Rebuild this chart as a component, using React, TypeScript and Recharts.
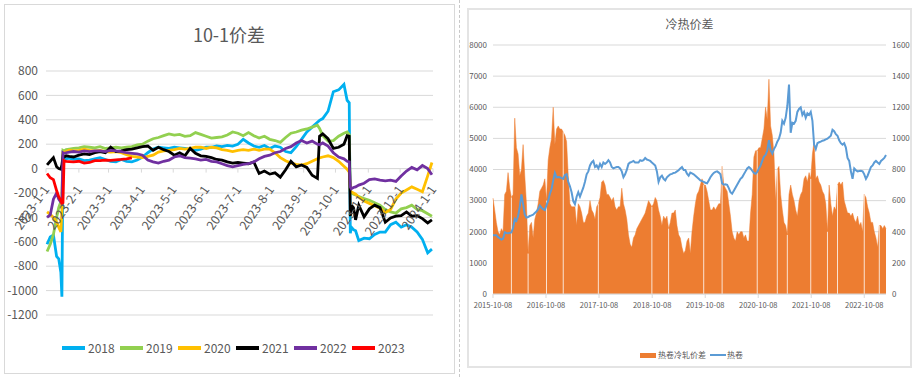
import React from "react";
import {
  LineChart,
  Line,
  ComposedChart,
  Area,
  XAxis,
  YAxis,
  CartesianGrid,
  ReferenceLine,
  ReferenceDot,
} from "recharts";

const FONT = '"Noto Sans CJK SC", "Noto Sans", sans-serif';
const GREY = "#595959";
const GRID = "#d9d9d9";

// ---------- left: 10-1 spread, one line per year ----------
// day of year (0 = Jan 1) of each sample
const DAYS = [
  1, 4, 7, 10, 12, 14, 15, 16, 17, 19, 22, 26,
  31, 36, 41, 46, 51, 56, 61, 66, 71, 76, 81, 86, 91, 96, 101, 106, 111, 116,
  121, 126, 131, 136, 141, 146, 151, 156, 161, 166, 171, 176, 181, 186, 191,
  196, 201, 206, 211, 216, 221, 226, 231, 236, 241, 246, 251, 256,
  258,
  261, 266, 271, 276, 281,
  284, 286, 287, 288, 289, 290, 292, 295,
  300, 305, 310, 315, 320, 325, 330, 335, 340, 345, 350, 355, 360,
  364,
];

const Y2018 = [
  -620, -560, -545, -720, -740, -850, -1050, 100, 90, 80, 85, 75,
  80, 65, 70, 80, 90, 75, 60, 55, 75, 60, 55, 70, 95, 130, 160, 175, 170, 165,
  175, 170, 165, 160, 150, 160, 175, 175, 185, 180, 190, 185, 200, 240, 210,
  185, 175, 190, 165, 185, 175, 140, 130, 180, 240, 300, 340, 380,
  395,
  410, 470, 630, 645, 690,
  560, 540, -530, -480, -490, -500, -510, -590,
  -570, -575, -540, -520, -520, -460, -440, -480, -460, -480, -520, -580, -690,
  -660,
];
const Y2019 = [
  -680, -620, -540, -400, -320, -270, -255, 150, 145, 155, 160, 165,
  170, 180, 175, 170, 180, 165, 170, 175, 170, 175, 180, 195, 200, 225, 245, 255, 270, 285,
  275, 280, 265, 270, 295, 280, 265, 250, 255, 260, 275, 300, 290, 270, 295,
  270, 250, 265, 240, 230, 215, 255, 290, 300, 315, 325, 340, 355,
  330,
  270, 225, 230, 265, 290,
  300, 280, -190, -200, -205, -210, -215, -230,
  -245, -260, -280, -300, -335, -355, -365, -330, -320, -300, -335, -345, -370,
  -390,
];
const Y2020 = [
  -355, -375, -400, -440, -480, -520, -350, 130, 135, 140, 150, 145,
  150, 160, 150, 145, 150, 140, 135, 140, 130, 115, 100, 95, 90, 100, 110, 135, 145, 150,
  155, 165, 160, 165, 175, 175, 165, 175, 170, 155, 150, 140, 150, 155, 150,
  160, 150, 160, 160, 130, 90, 65, 45, 35, 28, 40, 60, 80,
  88,
  95, 105, 90, 60, 20,
  -5, -30, -180, -190, -195, -200, -210, -235,
  -265, -285, -305, -325, -360, -335, -250, -200, -175, -150, -170, -190, -60,
  50,
];
const Y2021 = [
  30, 60, 90, 15, 0, -5, 30, 100, 95, 105, 100, 95,
  110, 120, 115, 130, 140, 130, 175, 140, 145, 155, 160, 170, 180, 185, 150, 175, 155, 140,
  110, 130, 105, 165, 125, 105, 100, 90, 75, 70, 55, 45, 50, 45, 40,
  55, -40, -20, -45, -35, -70, -10, 60, 15, 30, 10, -55, -80,
  265,
  285, 245, 165, 175, 200,
  270, 265, -390, -320, -310, -320, -420, -300,
  -395, -330, -300, -320, -440, -405, -390, -385, -355, -390, -385, -410, -445,
  -420,
];
const Y2022 = [
  -400, -380, -250, -200, -250, -275, -280, 130, 125, 130, 135, 140,
  135, 145, 140, 145, 145, 140, 150, 145, 140, 130, 125, 120, 110, 70, 55, 45, 60, 70,
  95, 105, 90, 85, 80, 70, 75, 60, 55, 40, 25, 15, 25, 35, 40,
  55, 80, 100, 110, 130, 140, 165, 180, 210, 230, 210, 225, 200,
  195,
  210, 185, 130, 95, 80,
  60, 55, -150, -165, -160, -155, -150, -135,
  -120, -90, -85, -95, -100, -95, -105, -60, -20, 10, -10, 25, 0,
  -50,
];
const Y2023 = [
  -40, -75, -90, -180, -230, -260, -285, -280, 65, 60, 58, 55,
  60, 45, 50, 65, 65, 70, 68, 72, 75, 80, 88,
];

const SERIES = [
  { key: "y2018", name: "2018", color: "#00b0f0", values: Y2018 },
  { key: "y2019", name: "2019", color: "#92d050", values: Y2019 },
  { key: "y2020", name: "2020", color: "#ffc000", values: Y2020 },
  { key: "y2021", name: "2021", color: "#000000", values: Y2021 },
  { key: "y2022", name: "2022", color: "#7030a0", values: Y2022 },
  { key: "y2023", name: "2023", color: "#ff0000", values: Y2023 },
];

const MONTH_DAYS = [0, 31, 59, 90, 120, 151, 181, 212, 243, 273, 304, 334, 365];
const MONTH_LABELS = [
  "2023-1-1", "2023-2-1", "2023-3-1", "2023-4-1", "2023-5-1", "2023-6-1",
  "2023-7-1", "2023-8-1", "2023-9-1", "2023-10-1", "2023-11-1", "2023-12-1",
  "2024-1-1",
];
const SPREAD_TICKS = [800, 600, 400, 200, 0, -200, -400, -600, -800, -1000, -1200];

const seasonData = DAYS.map((d, i) => {
  const row: Record<string, number | null> = { d };
  SERIES.forEach((s) => {
    row[s.key] = s.values[i] ?? null;
  });
  return row;
});

// ---------- right: hot-rolled / cold-rolled spread ----------
const YEAR_TICKS = [0, 31.7, 63.4, 95.2, 126.9, 158.6, 190.3, 222];
const YEAR_LABELS = [
  "2015-10-08", "2016-10-08", "2017-10-08", "2018-10-08",
  "2019-10-08", "2020-10-08", "2021-10-08", "2022-10-08",
];
const LEFT_TICKS = [0, 1000, 2000, 3000, 4000, 5000, 6000, 7000, 8000];
const RIGHT_TICKS = [0, 200, 400, 600, 800, 1000, 1200, 1400, 1600];

// 热卷冷轧价差 (left axis)
const SPREAD_HC = [
  3080, 2700, 2300, 2000, 1900, 2100, 2000, 3200, 3300, 3900,
  3400, 3100, 3200, 5650, 4700, 4500, 3800, 4000, 4800, 3800,
  2900, 1300, 2200, 2300, 1800, 2400, 2600, 2900, 3300, 3400,
  3500, 3700, 3000, 4300, 4700, 5000, 6000, 4800, 5300, 5400,
  5300, 5300, 5200, 5100, 4900, 3800, 2900, 2800, 2800, 2800,
  2200, 2900, 2800, 2600, 2300, 2300, 2500, 2600, 3000, 2700,
  2600, 2400, 2800, 2900, 3100, 3600, 3650, 3500, 3200, 3200,
  3100, 3000, 3100, 2800, 2700, 2800, 2800, 3400, 2900, 2700,
  2400, 1900, 1600, 1500, 1800, 1900, 2100, 2200, 2300, 2400,
  2500, 2600, 2800, 3000, 2900, 2800, 2900, 3100, 3000, 2700,
  2500, 2200, 2500, 2400, 2500, 2100, 2300, 2600, 2600, 2700,
  2200, 1900, 1800, 1500, 1300, 1400, 1700, 1800, 1300, 2000,
  2500, 2900, 3200, 3300, 3500, 3700, 3500, 3500, 3300, 3000,
  2700, 2700, 2800, 2700, 2800, 2900, 2900, 4100, 3500, 3400,
  3300, 2900, 2500, 2000, 1800, 1700, 2000, 1900, 2000, 2000,
  1800, 1900, 1700, 1700, 2600, 3200, 4400, 4600, 4600, 4700,
  4700, 5000, 5300, 6000, 5600, 6900, 5400, 5100, 4500, 3000,
  4000, 4100, 3200, 2700, 2300, 2200, 1900, 3200, 3500, 3200,
  3000, 2700, 2500, 3000, 3200, 3300, 3700, 3800, 3600, 3900,
  3700, 4500, 4900, 3700, 3800, 3600, 3500, 3300, 3200, 2900,
  2000, 3500, 2900, 2500, 2800, 2700, 3500, 3600, 3500, 3600,
  3000, 2800, 2600, 2600, 2500, 2600, 2400, 2300, 2500, 2200,
  2300, 2000, 3200, 3100, 2800, 2600, 2300, 2300, 2000, 1800,
  1500, 2200, 2200, 2100, 2200, 2100,
];

// 热卷 (right axis)
const HRC = [
  377, 377, 377, 365, 358, 350, 355, 396, 392, 390,
  393, 396, 424, 482, 470, 500, 560, 640, 577, 510,
  491, 495, 501, 505, 510, 520, 530, 545, 568, 555,
  545, 539, 570, 600, 644, 673, 730, 778, 750, 752,
  750, 745, 740, 765, 770, 721, 692, 654, 597, 577,
  625, 654, 625, 654, 683, 721, 769, 788, 826, 845,
  855, 816, 826, 807, 836, 816, 845, 836, 845, 860,
  845, 816, 807, 812, 816, 816, 807, 788, 750, 769,
  797, 836, 845, 849, 855, 845, 845, 845, 860, 855,
  860, 874, 864, 860, 855, 845, 836, 826, 788, 721,
  750, 760, 740, 730, 750, 760, 769, 772, 778, 780,
  788, 795, 807, 816, 797, 797, 773, 760, 780, 775,
  769, 760, 750, 740, 730, 725, 721, 715, 711, 730,
  750, 765, 778, 785, 788, 780, 769, 711, 702, 705,
  702, 680, 654, 644, 663, 683, 702, 721, 740, 750,
  769, 788, 807, 816, 807, 792, 778, 773, 784, 807,
  826, 855, 883, 893, 922, 988, 922, 902, 931, 950,
  979, 998, 1036, 1113, 1094, 1132, 1208, 1346, 1036, 1100,
  1094, 1113, 1170, 1189, 1199, 1151, 1170, 1132, 1161, 1151,
  1170, 1113, 960, 931, 969, 975, 979, 985, 988, 993,
  998, 1008, 1017, 1055, 1046, 1027, 1017, 988, 969, 960,
  969, 941, 874, 855, 788, 740, 807, 795, 788, 790,
  792, 788, 769, 740, 760, 788, 816, 826, 845, 855,
  845, 836, 855, 864, 874, 893,
];

// samples with no trading (holidays) show as pale gaps in the columns
const GAPS = [11, 21, 32, 42, 63, 95, 105, 126, 137, 158, 170, 176, 190, 200, 206, 222, 231];

const hcData = SPREAD_HC.map((v, i) => ({ i, spread: v, hrc: HRC[i] }));

const ORANGE = "#ed7d31";
const BLUE = "#5b9bd5";

const monthMark = (label: string) => (p: any) => (
  <g>
    <line x1={p.cx} y1={p.cy} x2={p.cx} y2={p.cy + 4} stroke={GRID} />
    <text
      transform={`translate(${p.cx + 4},${p.cy + 21}) rotate(-55)`}
      textAnchor="end"
      fontSize={12.5}
      fill={GREY}
      fontFamily={FONT}
    >
      {label}
    </text>
  </g>
);

const SeasonChart = () => (
  <LineChart
    width={460}
    height={377}
    data={seasonData}
    margin={{ top: 71, right: 27, bottom: 62, left: 6 }}
  >
    <CartesianGrid vertical={false} stroke={GRID} />
    <XAxis dataKey="d" type="number" domain={[0, 365]} hide />
    <YAxis
      type="number"
      domain={[-1200, 800]}
      ticks={SPREAD_TICKS}
      width={40}
      axisLine={false}
      tickLine={false}
      tick={{ fontSize: 12, fill: GREY, fontFamily: FONT }}
    />
    <ReferenceLine y={0} stroke={GRID} />
    {MONTH_DAYS.map((d, i) => (
      <ReferenceDot key={d} x={d} y={0} r={0} shape={monthMark(MONTH_LABELS[i])} />
    ))}
    {SERIES.map((s) => (
      <Line
        key={s.key}
        dataKey={s.key}
        name={s.name}
        type="linear"
        stroke={s.color}
        strokeWidth={2.8}
        dot={false}
        isAnimationActive={false}
      />
    ))}
  </LineChart>
);

const SpreadChart = () => (
  <ComposedChart
    width={457}
    height={377}
    data={hcData}
    margin={{ top: 45, right: 3, bottom: 53, left: 5 }}
  >
    <CartesianGrid vertical={false} stroke={GRID} yAxisId="l" />
    <XAxis
      dataKey="i"
      type="number"
      domain={[0, 235]}
      ticks={YEAR_TICKS}
      tickFormatter={(_v: number, idx: number) => YEAR_LABELS[idx]}
      stroke={GRID}
      tickSize={4}
      tickMargin={5}
      tick={{ fontSize: 7.5, fill: GREY, fontFamily: FONT }}
      interval={0}
    />
    <YAxis
      yAxisId="l"
      domain={[0, 8000]}
      ticks={LEFT_TICKS}
      width={28}
      axisLine={false}
      tickLine={false}
      tickSize={4}
      tick={{ fontSize: 8, fill: GREY, fontFamily: FONT }}
    />
    <YAxis
      yAxisId="r"
      orientation="right"
      domain={[0, 1600]}
      ticks={RIGHT_TICKS}
      width={28}
      axisLine={false}
      tickLine={false}
      tickSize={4}
      tick={{ fontSize: 8, fill: GREY, fontFamily: FONT, textAnchor: "start" }}
    />
    <Area
      yAxisId="l"
      dataKey="spread"
      name="热卷冷轧价差"
      type="linear"
      fill={ORANGE}
      fillOpacity={1}
      stroke={ORANGE}
      strokeWidth={0.5}
      isAnimationActive={false}
    />
    {GAPS.map((g) => (
      <ReferenceLine
        key={g}
        yAxisId="l"
        segment={[{ x: g, y: 0 }, { x: g, y: SPREAD_HC[g] }]}
        stroke="#fbe3d2"
        strokeWidth={1}
      />
    ))}
    <Line
      yAxisId="r"
      dataKey="hrc"
      name="热卷"
      type="linear"
      stroke={BLUE}
      strokeWidth={2}
      dot={false}
      isAnimationActive={false}
    />
  </ComposedChart>
);

export default function App() {
  return (
    <div
      style={{
        position: "absolute",
        left: 0,
        top: 0,
        width: 917,
        height: 377,
        background: "#fff",
        fontFamily: FONT,
        overflow: "hidden",
      }}
    >
      {/* frames */}
      <div style={{ position: "absolute", left: 4, top: 4, width: 449, height: 368, border: `1px solid ${GRID}` }} />
      <div style={{ position: "absolute", left: 459, top: 0, height: 377, borderLeft: "1px dashed #c8c8c8" }} />
      <div style={{ position: "absolute", left: 467, top: 8, width: 441, height: 356, border: "2px solid #e4e4e4" }} />

      {/* left chart */}
      <div style={{ position: "absolute", left: 4, top: 23, width: 450, textAlign: "center", fontSize: 18, lineHeight: "22px", color: GREY }}>
        10-1价差
      </div>
      <div style={{ position: "absolute", left: 0, top: 0 }}>
        <SeasonChart />
      </div>
      <div style={{ position: "absolute", left: 62, top: 341, display: "flex" }}>
        {SERIES.map((s) => (
          <div key={s.key} style={{ width: 58, height: 14, display: "flex", alignItems: "center" }}>
            <span style={{ width: 23, height: 4, background: s.color, marginRight: 3 }} />
            <span style={{ fontSize: 12, lineHeight: "14px", color: GREY }}>{s.name}</span>
          </div>
        ))}
      </div>

      {/* right chart */}
      <div style={{ position: "absolute", left: 467, top: 16, width: 445, textAlign: "center", fontSize: 12, lineHeight: "16px", color: GREY }}>
        冷热价差
      </div>
      <div style={{ position: "absolute", left: 460, top: 0 }}>
        <SpreadChart />
      </div>
      <div style={{ position: "absolute", left: 640, top: 350, height: 10, display: "flex", alignItems: "center", fontSize: 8, lineHeight: "10px", color: GREY }}>
        <span style={{ width: 16, height: 5, background: ORANGE }} />
        <span style={{ marginLeft: 2, width: 52 }}>热卷冷轧价差</span>
        <span style={{ width: 16, height: 2, background: BLUE }} />
        <span style={{ marginLeft: 1 }}>热卷</span>
      </div>
    </div>
  );
}
